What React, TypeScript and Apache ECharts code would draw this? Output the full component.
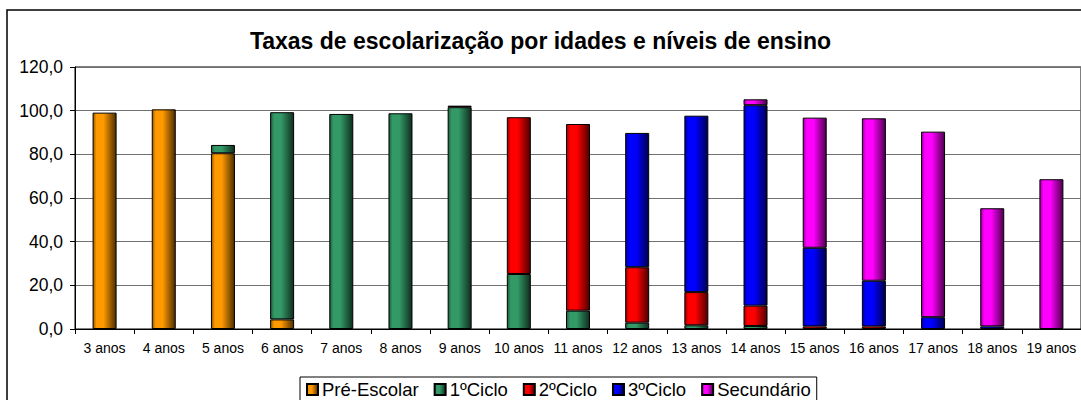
import React, { useEffect, useRef } from "react";
import * as echarts from "echarts";

const categories = ["3 anos", "4 anos", "5 anos", "6 anos", "7 anos", "8 anos", "9 anos", "10 anos", "11 anos", "12 anos", "13 anos", "14 anos", "15 anos", "16 anos", "17 anos", "18 anos", "19 anos"];
const preEscolar = [99.1, 100.6, 80.5, 4.4, null, null, null, null, null, null, null, null, null, null, null, null, null];
const ciclo1 = [null, null, 3.8, 94.9, 98.5, 98.8, 101.6, 25.2, 8.4, 2.9, 1.7, 1.4, null, null, null, null, null];
const ciclo2 = [null, null, null, null, null, null, 0.7, 71.8, 85.5, 25.4, 15.2, 9.3, 1.2, 1.2, null, null, null];
const ciclo3 = [null, null, null, null, null, null, null, null, null, 61.5, 80.8, 91.8, 36.0, 20.9, 5.4, 1.2, null];
const secundario = [null, null, null, null, null, null, null, null, null, null, null, 2.7, 59.6, 74.4, 85.0, 54.1, 68.6];
const yTicks = [0, 20, 40, 60, 80, 100, 120];

const seriesDefs = [
  { name: "Pré-Escolar", data: preEscolar, color: [255, 153, 0] },
  { name: "1ºCiclo", data: ciclo1, color: [51, 153, 102] },
  { name: "2ºCiclo", data: ciclo2, color: [255, 0, 0] },
  { name: "3ºCiclo", data: ciclo3, color: [0, 0, 255] },
  { name: "Secundário", data: secundario, color: [255, 0, 255] },
];

function shade(c: number[], f: number) {
  return `rgb(${Math.round(c[0] * f)},${Math.round(c[1] * f)},${Math.round(c[2] * f)})`;
}

function grad(c: number[]) {
  return new echarts.graphic.LinearGradient(0, 0, 1, 0, [
    { offset: 0, color: shade(c, 0.6) },
    { offset: 0.15, color: shade(c, 1) },
    { offset: 0.45, color: shade(c, 1) },
    { offset: 1, color: shade(c, 0.3) },
  ]);
}

const FONT = "'Liberation Sans', Arial, sans-serif";

export default function App() {
  const ref = useRef<HTMLDivElement>(null);
  useEffect(() => {
    if (!ref.current) return;
    const chart = echarts.init(ref.current, null, { renderer: "svg" });
    chart.setOption({
      animation: false,
      backgroundColor: "#fff",
      textStyle: { fontFamily: FONT },
      title: {
        text: "Taxas de escolarização por idades e níveis de ensino",
        left: "center",
        top: 24,
        textStyle: { fontFamily: FONT, fontSize: 23, fontWeight: "bold", color: "#000" },
      },
      graphic: [
        {
          type: "rect",
          shape: { x: 7, y: 10, width: 1100, height: 420 },
          style: { fill: "none", stroke: "#000", lineWidth: 1.5 },
          silent: true,
        },
      ],
      legend: {
        left: 300,
        top: 377,
        orient: "horizontal",
        icon: "rect",
        itemWidth: 11,
        itemHeight: 11,
        itemGap: 15,
        padding: [3, 6, 6, 6],
        borderColor: "#000",
        borderWidth: 1,
        textStyle: { fontFamily: FONT, fontSize: 18.5, lineHeight: 18, color: "#000", padding: [0, 0, 0, -1] },
        data: seriesDefs.map((s) => s.name),
      },
      grid: { left: 75, top: 67, width: 1008, height: 262, show: true, borderColor: "#000", borderWidth: 1 },
      xAxis: {
        type: "category",
        data: categories,
        boundaryGap: true,
        axisLine: { lineStyle: { color: "#000" } },
        axisTick: { show: true, length: 5, lineStyle: { color: "#000" } },
        axisLabel: { fontFamily: FONT, fontSize: 14, color: "#000", margin: 12, interval: 0 },
      },
      yAxis: {
        type: "value",
        min: yTicks[0],
        max: yTicks[yTicks.length - 1],
        interval: 20,
        axisLine: { show: true, lineStyle: { color: "#000" } },
        axisTick: { show: true, length: 5, lineStyle: { color: "#000" } },
        axisLabel: {
          fontFamily: FONT,
          fontSize: 17.5,
          color: "#000",
          margin: 12,
          formatter: (v: number) => v.toFixed(1).replace(".", ","),
        },
        splitLine: { lineStyle: { color: "#707070", width: 1 } },
      },
      series: seriesDefs.map((s) => ({
        name: s.name,
        type: "bar",
        stack: "total",
        barWidth: 24,
        data: s.data.map((v) => (v === null ? "-" : v)),
        itemStyle: { color: grad(s.color), borderColor: "#000", borderWidth: 1 },
      })),
    });
    return () => chart.dispose();
  }, []);
  return (
    <div
      ref={ref}
      style={{ position: "fixed", left: 0, top: 0, width: 1081, height: 400 }}
    />
  );
}
